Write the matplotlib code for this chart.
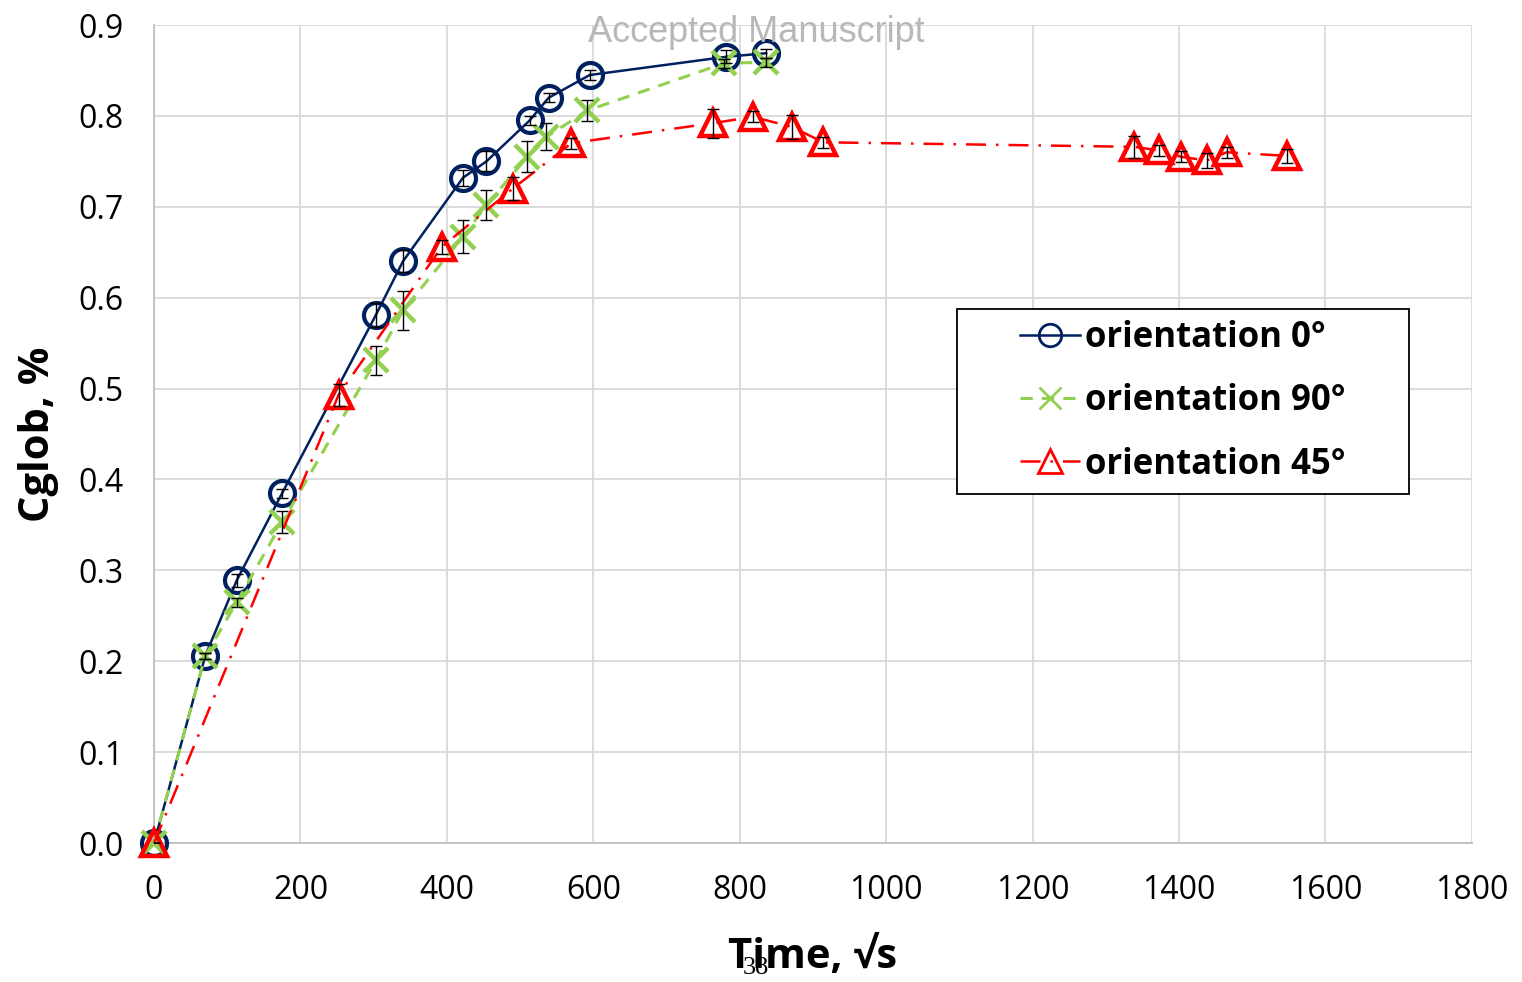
import matplotlib.pyplot as plt
from matplotlib.patches import Rectangle

plt.rcParams["font.family"] = ["Open Sans", "DejaVu Sans"]

# orientation 0 deg
t_0 = [0, 70, 113, 175, 303, 340, 422, 454, 513, 539, 595, 781, 836]
c_0 = [0.0, 0.206, 0.289, 0.385, 0.581, 0.640, 0.732, 0.750, 0.795, 0.820, 0.845, 0.865, 0.869]
err_0 = [0.0, 0.003, 0.007, 0.005, 0.013, 0.012, 0.009, 0.011, 0.005, 0.005, 0.005, 0.007, 0.005]

# orientation 90 deg
t_90 = [0, 70, 113, 175, 303, 340, 422, 454, 510, 536, 592, 779, 836]
c_90 = [0.0, 0.206, 0.265, 0.353, 0.531, 0.586, 0.667, 0.702, 0.755, 0.777, 0.806, 0.858, 0.859]
err_90 = [0.0, 0.003, 0.005, 0.012, 0.016, 0.021, 0.018, 0.017, 0.017, 0.015, 0.012, 0.005, 0.005]

# orientation 45 deg
t_45 = [0, 252, 393, 490, 570, 763, 818, 871, 914, 1339, 1372, 1403, 1438, 1465, 1548]
c_45 = [0.0, 0.493, 0.656, 0.720, 0.770, 0.792, 0.799, 0.788, 0.771, 0.766, 0.762, 0.755, 0.751, 0.760, 0.756]
err_45 = [0.0, 0.012, 0.008, 0.013, 0.006, 0.016, 0.006, 0.013, 0.006, 0.012, 0.006, 0.006, 0.008, 0.006, 0.008]

x_ticks = list(range(0, 1801, 200))
y_ticks = [0.0, 0.1, 0.2, 0.3, 0.4, 0.5, 0.6, 0.7, 0.8, 0.9]

fig = plt.figure(figsize=(15.22, 9.82), dpi=100)
ax = fig.add_axes([0.1012, 0.1415, 0.8659, 0.833])

ax.plot(t_0, c_0, color="#002060", lw=1.8, ls="-", marker="o", ms=18,
        mfc="none", mec="#002060", mew=3, clip_on=False, zorder=3,
        label="orientation 0°")
ax.plot(t_90, c_90, color="#92D050", lw=2.2, ls=(0, (4, 3)), marker="x", ms=17,
        mec="#92D050", mew=3.2, clip_on=False, zorder=4,
        label="orientation 90°")
ax.plot(t_45, c_45, color="#FF0000", lw=1.8, ls=(0, (8, 4, 1, 4)), marker="^", ms=19,
        mfc="none", mec="#FF0000", mew=3.2, clip_on=False, zorder=5,
        label="orientation 45°")

for t, c, e in [(t_0, c_0, err_0), (t_90, c_90, err_90), (t_45, c_45, err_45)]:
    ax.errorbar(t, c, yerr=e, fmt="none", ecolor="black", elinewidth=1,
                capsize=4, capthick=1, zorder=6)

ax.set_xlim(0, 1800)
ax.set_ylim(0, 0.9)
ax.set_xticks(x_ticks)
ax.set_yticks(y_ticks)
ax.set_yticklabels([f"{v:.1f}" for v in y_ticks])
ax.tick_params(length=0, labelsize=23, pad=22)
ax.grid(True, color="#d9d9d9", lw=1.3)
ax.set_axisbelow(True)
for side in ["top", "right"]:
    ax.spines[side].set_visible(False)
for side in ["left", "bottom"]:
    ax.spines[side].set_color("#bfbfbf")
    ax.spines[side].set_linewidth(1.3)

ax.set_xlabel("Time, √s", fontsize=30, fontweight="bold", labelpad=22)
ax.set_ylabel("Cglob, %", fontsize=30, fontweight="bold", labelpad=14)

# legend box drawn separately so the side padding can be wider than the top
box = Rectangle((0.6093, 0.4267), 0.3429, 0.2261, transform=ax.transAxes,
                facecolor="white", edgecolor="black", lw=1.3, zorder=7)
ax.add_patch(box)
leg = ax.legend(loc="center", bbox_to_anchor=(0.7807, 0.5398),
                prop={"weight": "bold", "size": 25}, frameon=False,
                handlelength=1.7, handletextpad=0.15, labelspacing=0.78,
                markerscale=0.9, borderaxespad=0)
leg.set_zorder(8)
for h in leg.legend_handles:
    h.set_markeredgewidth(2)

fig.text(0.4967, 0.967, "Accepted Manuscript", ha="center", va="center",
         fontsize=26, color="#b8b8b8", family="Liberation Sans")
fig.text(0.4967, 0.003, "38", ha="center", va="bottom", fontsize=19,
         color="black", family="Liberation Serif")

fig.savefig("out.png", dpi=100)
